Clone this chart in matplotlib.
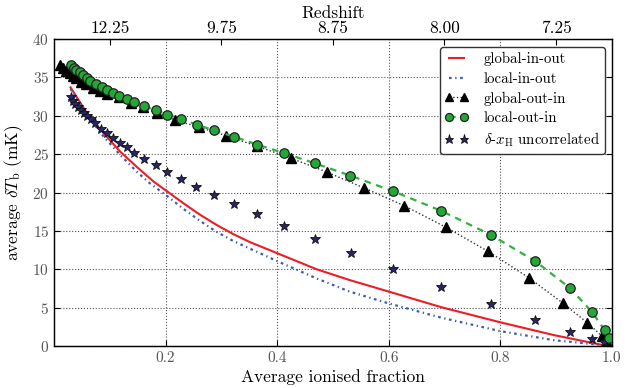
import numpy as np
import matplotlib
matplotlib.use("Agg")
import matplotlib.pyplot as plt

plt.rcParams['font.family'] = ['cmr10', 'DejaVu Serif']
plt.rcParams['mathtext.fontset'] = 'cm'
plt.rcParams['axes.formatter.use_mathtext'] = True
plt.rcParams['axes.unicode_minus'] = False

# ---------------- data ----------------
# global-in-out (red solid)
gio_x = [0.0296, 0.0594, 0.0893, 0.119, 0.149, 0.179, 0.200, 0.233, 0.262, 0.291,
         0.321, 0.351, 0.400, 0.471, 0.530, 0.600, 0.695, 0.800, 0.895, 0.984]
gio_y = [33.7, 30.3, 27.7, 25.3, 23.3, 21.4, 20.3, 18.55, 17.1, 15.8,
         14.6, 13.55, 12.1, 10.0, 8.6, 7.1, 5.05, 3.1, 1.45, 0.13]

# local-in-out (blue dash-dot)
lio_x = [0.0296, 0.06, 0.09, 0.12, 0.15, 0.172, 0.200, 0.2315, 0.262, 0.291,
         0.321, 0.351, 0.400, 0.471, 0.530, 0.600, 0.695, 0.800, 0.895, 0.984]
lio_y = [33.5, 30.0, 27.2, 24.8, 22.6, 21.2, 19.7, 17.9, 16.3, 14.9,
         13.7, 12.7, 11.07, 8.8, 7.1, 5.56, 3.69, 1.95, 0.78, 0.13]

# global-out-in (black triangles, dotted)
goi_x = [0.0104, 0.0163, 0.0217, 0.0278, 0.0337, 0.0396, 0.0475, 0.0570, 0.0690, 0.0821,
         0.0956, 0.1165, 0.1377, 0.160, 0.184, 0.217, 0.260, 0.308, 0.364, 0.424,
         0.489, 0.556, 0.628, 0.702, 0.778, 0.852, 0.913, 0.956, 0.983, 0.992]
goi_y = [36.61, 36.18, 35.87, 35.53, 35.22, 34.88, 34.44, 34.10, 33.65, 33.29,
         32.83, 32.38, 31.69, 31.08, 30.36, 29.45, 28.50, 27.43, 26.03, 24.50,
         22.67, 20.59, 18.28, 15.50, 12.35, 8.86, 5.56, 3.04, 1.26, 0.59]

# local-out-in (green circles, dashed)
loi_x = [0.0296, 0.0355, 0.0403, 0.0463, 0.0522, 0.0583, 0.0642, 0.0749, 0.0857, 0.0952,
         0.106, 0.117, 0.130, 0.143, 0.161, 0.182, 0.203, 0.228, 0.256, 0.286,
         0.323, 0.364, 0.413, 0.468, 0.531, 0.608, 0.693, 0.783, 0.863, 0.925,
         0.965, 0.987, 0.995]
loi_y = [36.61, 36.26, 36.0, 35.66, 35.31, 34.96, 34.57, 34.10, 33.71, 33.39,
         33.0, 32.51, 32.16, 31.73, 31.24, 30.75, 30.16, 29.55, 28.86, 28.10,
         27.27, 26.25, 25.12, 23.80, 22.21, 20.17, 17.65, 14.50, 11.04, 7.56,
         4.39, 2.08, 1.0]

# delta-xH uncorrelated (stars)
unc_x = [0.0296, 0.0342, 0.0385, 0.0427, 0.0475, 0.0534, 0.0593, 0.0665, 0.0737, 0.0848,
         0.0952, 0.106, 0.118, 0.130, 0.144, 0.161, 0.182, 0.203, 0.228, 0.255,
         0.286, 0.323, 0.364, 0.413, 0.468, 0.532, 0.608, 0.694, 0.783, 0.862,
         0.925, 0.965, 0.986]
unc_y = [32.40, 31.96, 31.53, 31.18, 30.75, 30.32, 29.97, 29.54, 29.10, 28.30,
         27.71, 27.13, 26.49, 25.90, 25.19, 24.39, 23.56, 22.74, 21.76, 20.76,
         19.70, 18.46, 17.16, 15.59, 13.98, 12.14, 10.03, 7.73, 5.43, 3.39,
         1.86, 0.87, 0.52]

bottom_ticks = [0.2, 0.4, 0.6, 0.8, 1.0]
bottom_labels = ['0.2', '0.4', '0.6', '0.8', '1.0']
top_ticks = [0.1, 0.3, 0.5, 0.7, 0.9]
top_labels = ['12.25', '9.75', '8.75', '8.00', '7.25']
y_ticks = [0, 5, 10, 15, 20, 25, 30, 35, 40]

# ---------------- figure ----------------
fig = plt.figure(figsize=(6.4, 3.88), dpi=100)
ax = fig.add_axes([0.0844, 0.108, 0.8716, 0.7915])

ax.plot(gio_x, gio_y, color='#ee1c25', lw=1.5, label='global-in-out', zorder=3)
ax.plot(lio_x, lio_y, color='#3a5cb0', lw=1.6, dashes=[1.2, 1.6, 0.6, 1.6],
        label='local-in-out', zorder=3)
ax.plot(goi_x, goi_y, color='#333333', lw=1.0, ls=':', marker='^', ms=7,
        mfc='black', mec='black', label='global-out-in', zorder=4)
ax.plot(loi_x, loi_y, color='#33b040', lw=1.6, dashes=[3, 2.5], marker='o', ms=6.8,
        mfc='#22a836', mec='#222222', mew=0.9, label='local-out-in', zorder=5)
ax.plot(unc_x, unc_y, ls='none', marker='*', ms=7.8, mfc='#262668', mec='#111111',
        mew=0.6, label=r'$\delta$-$x_\mathrm{H}$ uncorrelated', zorder=4)

ax.set_xlim(0, 1.0)
ax.set_ylim(0, 40)
ax.set_xticks(bottom_ticks)
ax.set_xticklabels(bottom_labels)
ax.set_yticks(y_ticks)
ax.tick_params(axis='both', direction='in', labelsize=11, labelcolor='#555555',
               length=4, width=0.8, right=True)
ax.grid(True, color='#555555', ls=':', lw=0.8)
ax.set_xlabel('Average ionised fraction', fontsize=12.5, labelpad=3)
ax.set_ylabel(r'average $\delta T_\mathrm{b}$ (mK)', fontsize=12.5, labelpad=5)
for s in ax.spines.values():
    s.set_linewidth(1.0)
    s.set_color('#222222')

ax2 = ax.twiny()
ax2.set_xlim(ax.get_xlim())
ax2.set_xticks(top_ticks)
ax2.set_xticklabels(top_labels)
ax2.tick_params(axis='x', direction='in', labelsize=12.5, length=4, width=0.8, pad=2)
ax2.set_xlabel('Redshift', fontsize=12.5, labelpad=2)

leg = ax.legend(loc='upper right', fontsize=10.7, numpoints=2, fancybox=True,
                framealpha=1, edgecolor='#333333', handlelength=1.6,
                borderpad=0.35, labelspacing=0.38, handletextpad=1.0,
                markerscale=0.85, borderaxespad=0, bbox_to_anchor=(0.9875, 0.974))
leg.get_frame().set_linewidth(1.0)

fig.savefig('out.png', dpi=100)
